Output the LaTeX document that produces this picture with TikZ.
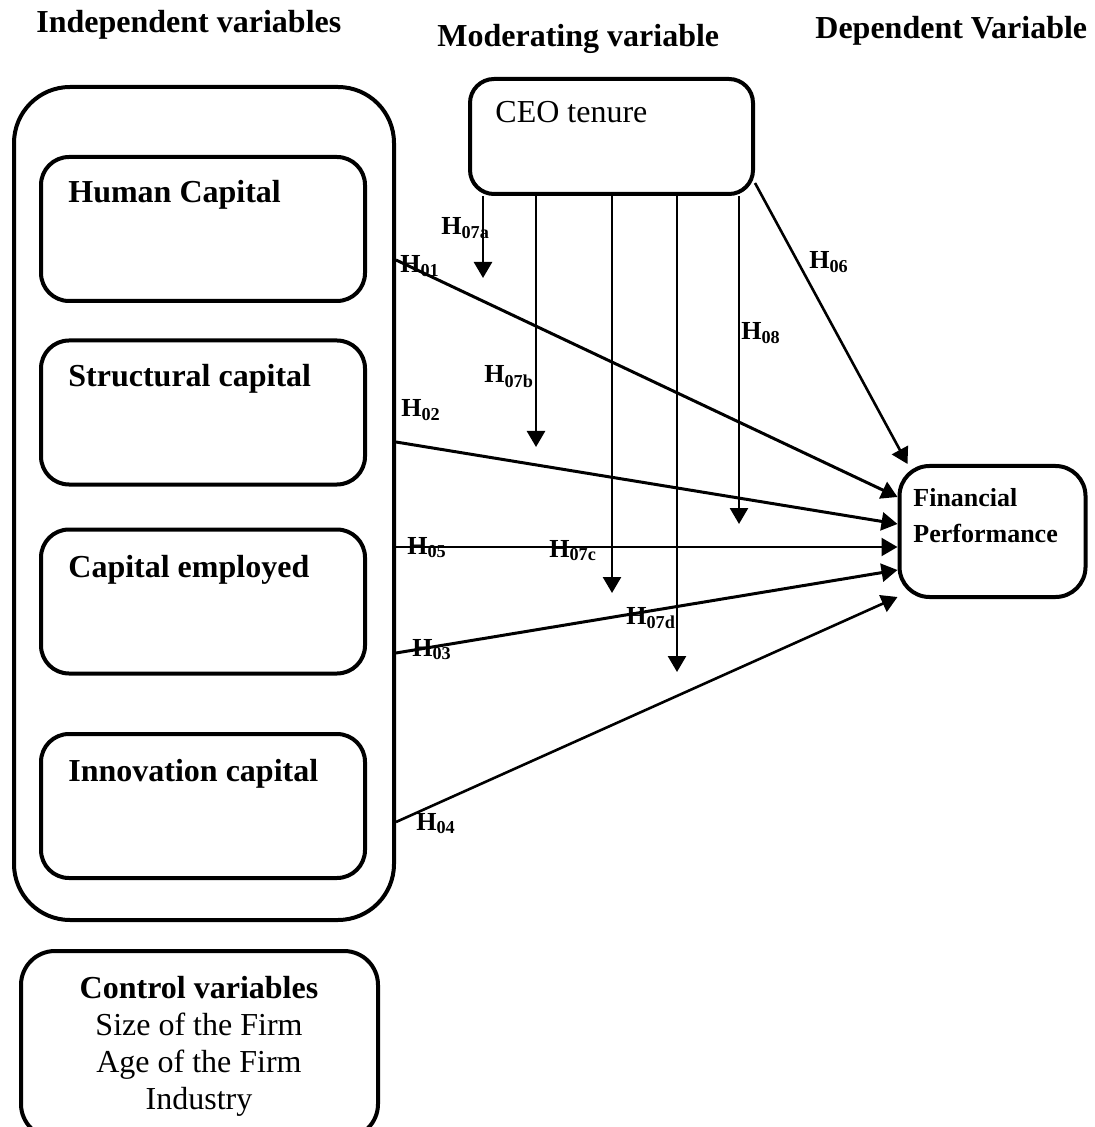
\documentclass[tikz,border=0pt]{standalone}
\usepackage{fontspec}
\setmainfont{Liberation Serif}
\usetikzlibrary{arrows.meta}
\tikzset{
  heading/.style={font=\fontsize{16}{19}\selectfont\bfseries, inner sep=0pt, anchor=base west},
  boxtext/.style={font=\fontsize{16}{19}\selectfont\bfseries, inner sep=0pt, anchor=base west},
  capbox/.style={draw, line width=2pt, rounded corners=14pt, minimum width=162pt, minimum height=72pt},
  hyp/.style={font=\fontsize{13}{15}\selectfont\bfseries, inner sep=0pt, anchor=base west},
  link/.style={line width=1.5pt, -{Triangle[width=9pt,length=8pt]}},
}
\newcommand{\hlab}[1]{H\textsubscript{#1}}
\begin{document}
\begin{tikzpicture}[x=0.5pt,y=-0.5pt]
  \clip (0,0) rectangle (1094,1127);

  % Headings
  \node[heading] (ivtitle) at (36,33) {Independent variables};
  \node[heading] (mvtitle) at (437,47) {Moderating variable};
  \node[heading] (dvtitle) at (815,39) {Dependent Variable};

  % Independent variables block
  \node[draw, line width=2pt, rounded corners=28pt, minimum width=190pt, minimum height=416.5pt] (iv) at (204,503.5) {};
  \node[capbox] (hc) at (203,229) {};
  \node[boxtext] (hctext) at (68,203) {Human Capital};
  \node[capbox] (sc) at (203,412.5) {};
  \node[boxtext] (sctext) at (68,387) {Structural capital};
  \node[capbox] (ce) at (203,601.5) {};
  \node[boxtext] (cetext) at (68,577) {Capital employed};
  \node[capbox] (ic) at (203,806) {};
  \node[boxtext] (ictext) at (68,781) {Innovation capital};

  % Moderating variable
  \node[draw, line width=2pt, rounded corners=12pt, minimum width=141.5pt, minimum height=57.5pt] (ceo) at (611.5,136.5) {};
  \node[font=\fontsize{16}{19}\selectfont, inner sep=0pt, anchor=base west] (ceotext) at (495,123) {CEO tenure};

  % Dependent variable
  \node[draw, line width=2pt, rounded corners=15pt, minimum width=93pt, minimum height=65.5pt] (fp) at (992.5,531.5) {};
  \node[font=\fontsize{13}{18}\selectfont\bfseries, inner sep=0pt, align=left, anchor=north west] (fptext) at (913,488) {Financial\\Performance};

  % Control variables (cut off by the lower edge)
  \node[draw, line width=2pt, rounded corners=17pt, minimum width=178.5pt, minimum height=93.5pt] (ctrl) at (199.5,1044.5) {};
  \node[font=\fontsize{16}{18.5}\selectfont, inner sep=0pt, align=center, anchor=north] (ctrltext) at (199,976)
    {\textbf{Control variables}\\Size of the Firm\\Age of the Firm\\Industry};

  % Start points on the independent block
  \coordinate (s01) at (iv.east |- 0,260);
  \coordinate (s02) at (iv.east |- 0,442);
  \coordinate (s05) at (iv.east |- 0,547);
  \coordinate (s03) at (iv.east |- 0,653);
  \coordinate (s04) at (iv.east |- 0,822);

  % End points on financial performance
  \coordinate (t01) at (fp.west |- 0,497);
  \coordinate (t02) at (fp.west |- 0,524);
  \coordinate (t05) at (fp.west |- 0,547);
  \coordinate (t03) at (fp.west |- 0,570);
  \coordinate (t04) at (fp.west |- 0,597);

  % Direct effects
  \draw[link] (s01) -- (t01);
  \draw[link] (s02) -- (t02);
  \draw[link, line width=1.1pt] (s05) -- (t05);
  \draw[link] (s03) -- (t03);
  \draw[link, line width=1.3pt] (s04) -- (t04);
  \draw[link, line width=1.3pt] (ceo.east |- 0,183) -- ([xshift=5pt]fp.north west);

  % Moderating effects
  \coordinate (m07a) at (483,278);
  \coordinate (m07b) at (536,447);
  \coordinate (m07c) at (612,593);
  \coordinate (m07d) at (677,672);
  \coordinate (m08) at (739,524);
  \draw[link, line width=1.3pt] (ceo.south -| m07a) -- (m07a);
  \draw[link, line width=1.3pt] (ceo.south -| m07b) -- (m07b);
  \draw[link, line width=1.3pt] (ceo.south -| m07c) -- (m07c);
  \draw[link, line width=1.3pt] (ceo.south -| m07d) -- (m07d);
  \draw[link, line width=1.3pt] (ceo.south -| m08) -- (m08);

  % Hypothesis labels
  \node[hyp] (l01) at (400,273) {\hlab{01}};
  \node[hyp] (l02) at (401,417) {\hlab{02}};
  \node[hyp] (l05) at (407,554) {\hlab{05}};
  \node[hyp] (l03) at (412,656) {\hlab{03}};
  \node[hyp] (l04) at (416,830) {\hlab{04}};
  \node[hyp] (l06) at (809,269) {\hlab{06}};
  \node[hyp] (l07a) at (441,235) {\hlab{07a}};
  \node[hyp] (l07b) at (484,383) {\hlab{07b}};
  \node[hyp] (l07c) at (549,557) {\hlab{07c}};
  \node[hyp] (l07d) at (626,624) {\hlab{07d}};
  \node[hyp] (l08) at (741,340) {\hlab{08}};
\end{tikzpicture}
\end{document}
